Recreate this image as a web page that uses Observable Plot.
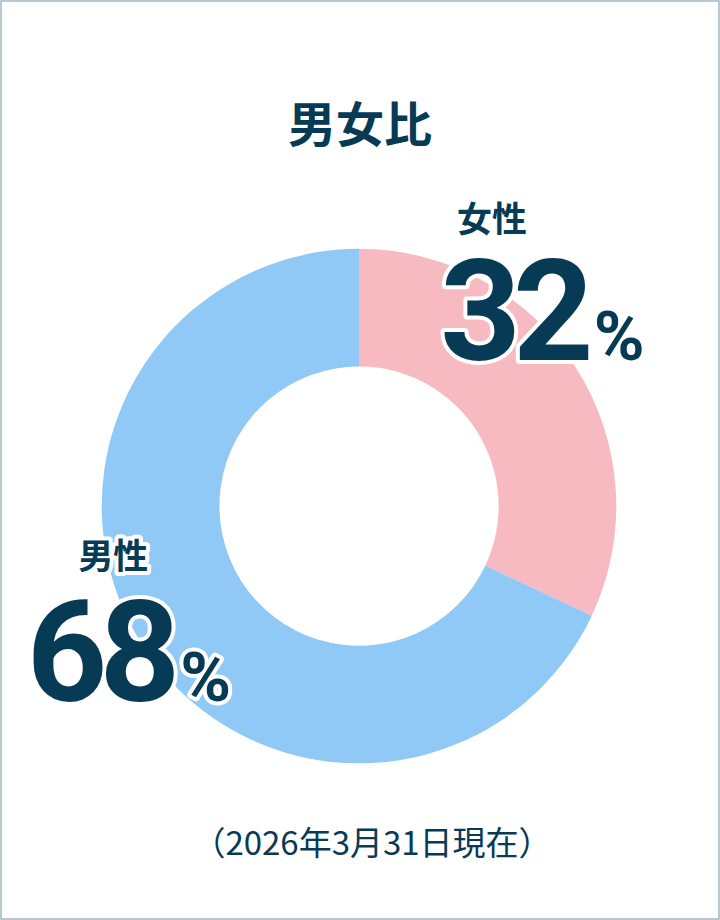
<!DOCTYPE html>
<html><head><meta charset="utf-8">
<script src="https://cdn.jsdelivr.net/npm/d3@7"></script>
<script src="https://cdn.jsdelivr.net/npm/@observablehq/plot@0.6"></script>
<style>
html,body{margin:0;padding:0;background:#fff;}
#frame{position:relative;width:720px;height:920px;box-sizing:border-box;border:2px solid #b7c8d2;background:#fff;overflow:hidden;}
#title{position:absolute;left:-2px;width:720px;top:95px;text-align:center;font-family:"Noto Sans CJK JP";font-weight:700;font-size:48px;color:#063a55;line-height:1;margin:0;}
#chart{position:absolute;left:-2px;top:178px;}
#caption{position:absolute;left:10px;width:720px;top:823px;text-align:center;font-family:"Noto Sans CJK JP";font-weight:400;font-size:33px;color:#063a55;line-height:1;margin:0;}
</style></head>
<body>
<div id="frame">
  <div id="title">男女比</div>
  <div id="chart"></div>
  <div id="caption">（2026年3月31日現在）</div>
</div>
<script>
const categories = ["女性", "男性"];
const values = [32, 68];
const percentLabels = ["32", "68"];
const sliceColors = ["#f7bac1", "#91c9f6"];

const R = 258, r0 = 140;
const navy = "#063a55";
const color = d3.scaleOrdinal(categories, sliceColors);

const data = categories.map((c, i) => ({category: c, value: values[i], pct: percentLabels[i]}));
const slices = d3.pie().value(d => d.value).sort(null)(data).map(p => {
  const mid = (p.startAngle + p.endAngle) / 2;
  return {...p.data, startAngle: p.startAngle, endAngle: p.endAngle,
          cx: R * Math.sin(mid), cy: R * Math.cos(mid)};
});

function donut(index, scales) {
  const cx = scales.x(0), cy = scales.y(0);
  const k = scales.x(1) - scales.x(0);
  const arc = d3.arc().innerRadius(r0 * k).outerRadius(R * k);
  const g = d3.create("svg:g").attr("transform", `translate(${cx},${cy})`);
  g.selectAll("path").data(slices).join("path")
    .attr("d", d => arc(d)).attr("fill", d => color(d.category));
  return g.node();
}

const halo = {fill: navy, stroke: "white", strokeWidth: 8, strokeLinejoin: "round"};
function labelMarks(slice, o) {
  return [
    Plot.text([slice], {x: "cx", y: "cy", text: "category", dx: o.nameDx, dy: o.nameDy,
      fontFamily: "Noto Sans CJK JP", fontWeight: 700, fontSize: 35, ...halo}),
    Plot.text([slice], {x: "cx", y: "cy", text: "pct", dx: o.numDx, dy: o.numDy, textAnchor: "end", lineAnchor: "bottom",
      fontFamily: "Roboto", fontWeight: 700, fontSize: 141, ...halo}),
    Plot.text([slice], {x: "cx", y: "cy", text: () => "%", dx: o.numDx + 8, dy: o.numDy, textAnchor: "start", lineAnchor: "bottom",
      fontFamily: "Roboto", fontWeight: 700, fontSize: 69, ...halo})
  ];
}

const plot = Plot.plot({
  width: 720, height: 610,
  margin: 0,
  x: {domain: [-360, 360], axis: null},
  y: {domain: [-283, 327], axis: null},
  marks: [
    donut,
    ...labelMarks(slices[0], {nameDx: -85, nameDy: -148, numDx: 9, numDy: -9}),
    ...labelMarks(slices[1], {nameDx: -29, nameDy: -87, numDx: 30, numDy: 57})
  ]
});
d3.select(plot).selectAll("text")
  .filter(function() { return percentLabels.includes(this.textContent); })
  .attr("letter-spacing", -8);
document.getElementById("chart").appendChild(plot);
</script>
</body></html>
